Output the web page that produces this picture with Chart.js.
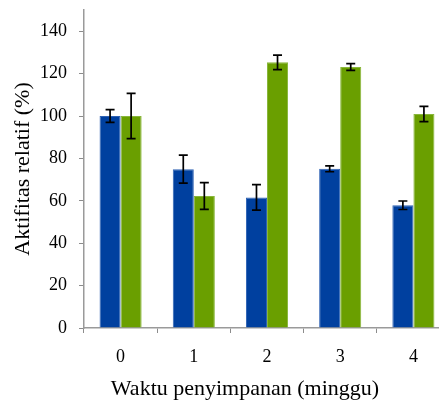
<!DOCTYPE html>
<html>
<head>
<meta charset="utf-8">
<script src="https://cdn.jsdelivr.net/npm/chart.js@4"></script>
<style>
  html, body { margin: 0; padding: 0; background: #fff; overflow: hidden; }
  #wrap { width: 439px; height: 405px; overflow: hidden; }
</style>
</head>
<body>
<div id="wrap"><canvas id="chart" width="450" height="405"></canvas></div>
<script>
const weeks = ['0', '1', '2', '3', '4'];
const blueValues = [100, 74.9, 61.6, 75.1, 57.9];
const blueErrors = [3, 6.6, 6, 1.4, 2];
const greenValues = [100, 62.3, 125.3, 123.1, 100.9];
const greenErrors = [10.7, 6.3, 3.4, 1.6, 3.6];
const yTicks = [0, 20, 40, 60, 80, 100, 120, 140];

const serif = "'Liberation Serif', 'DejaVu Serif', serif";

// error bars drawn from the data through the chart's own scales
const errorBars = {
    id: 'errorBars',
    afterDatasetsDraw(chart) {
        const ctx = chart.ctx;
        const y = chart.scales.y;
        ctx.save();
        ctx.strokeStyle = '#000';
        ctx.lineWidth = 1.7;
        chart.data.datasets.forEach((ds, i) => {
            const meta = chart.getDatasetMeta(i);
            meta.data.forEach((bar, j) => {
                const v = ds.data[j], e = ds.errors[j];
                const top = y.getPixelForValue(v + e);
                const bottom = y.getPixelForValue(v - e);
                const x = bar.x;
                ctx.beginPath();
                ctx.moveTo(x, top); ctx.lineTo(x, bottom);
                ctx.moveTo(x - 4.5, top); ctx.lineTo(x + 4.5, top);
                ctx.moveTo(x - 4.5, bottom); ctx.lineTo(x + 4.5, bottom);
                ctx.stroke();
            });
        });
        ctx.restore();
    }
};

const xTitle = {
    id: 'xTitle',
    afterDraw(chart) {
        const ctx = chart.ctx;
        ctx.save();
        ctx.fillStyle = '#000';
        ctx.font = '22px ' + serif;
        ctx.textAlign = 'center';
        ctx.textBaseline = 'middle';
        ctx.fillText('Waktu penyimpanan (minggu)', 245, 389);
        ctx.restore();
    }
};

new Chart(document.getElementById('chart'), {
    type: 'bar',
    data: {
        labels: weeks,
        datasets: [
            {
                label: 'Seri 1',
                data: blueValues,
                errors: blueErrors,
                backgroundColor: '#00409F',
                borderColor: '#2e62b4',
                borderWidth: 1
            },
            {
                label: 'Seri 2',
                data: greenValues,
                errors: greenErrors,
                backgroundColor: '#6A9F00',
                borderColor: '#88b63a',
                borderWidth: 1
            }
        ]
    },
    options: {
        responsive: false,
        animation: false,
        layout: { padding: { top: 10, right: 0, left: 10, bottom: 0 } },
        plugins: {
            legend: { display: false },
            tooltip: { enabled: false }
        },
        datasets: {
            bar: { barPercentage: 1, categoryPercentage: 0.575 }
        },
        scales: {
            x: {
                grid: {
                    drawOnChartArea: false,
                    drawTicks: true,
                    tickLength: 5,
                    color: '#8c8c8c',
                    lineWidth: 1
                },
                border: { color: '#9a9a9a', width: 1.5 },
                ticks: {
                    color: '#000',
                    padding: 13,
                    font: { family: serif, size: 18 }
                },
                afterFit(scale) {
                    scale.height = 77;
                    scale.paddingLeft = 0;
                    scale.paddingRight = 0;
                }
            },
            y: {
                min: 0,
                max: 150,
                afterBuildTicks(scale) {
                    scale.ticks = yTicks.map(v => ({ value: v }));
                },
                grid: {
                    drawOnChartArea: false,
                    drawTicks: true,
                    tickLength: 5,
                    color: '#8c8c8c',
                    lineWidth: 1
                },
                border: { color: '#9a9a9a', width: 1.5 },
                ticks: {
                    color: '#000',
                    padding: 12,
                    font: { family: serif, size: 18 }
                },
                title: {
                    display: true,
                    text: 'Aktifitas relatif (%)',
                    color: '#000',
                    padding: { top: 0, bottom: 4 },
                    font: { family: serif, size: 22 }
                },
                afterFit(scale) {
                    scale.width = 74;
                    scale.paddingTop = 0;
                    scale.paddingBottom = 0;
                }
            }
        }
    },
    plugins: [errorBars, xTitle]
});
</script>
</body>
</html>
